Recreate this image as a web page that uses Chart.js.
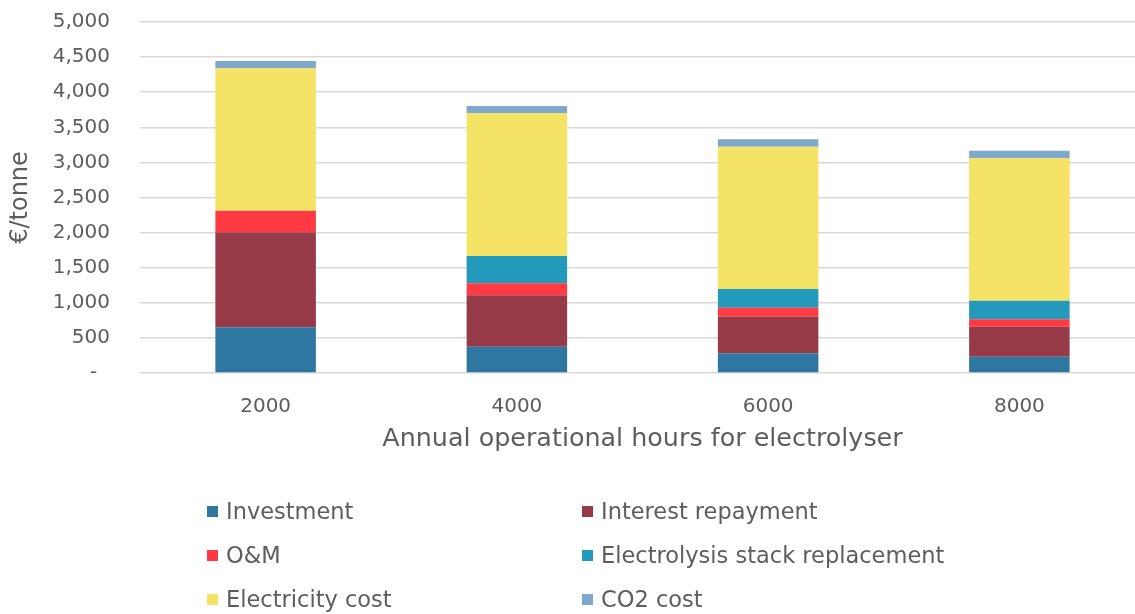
<!DOCTYPE html>
<html>
<head>
<meta charset="utf-8">
<script src="https://cdn.jsdelivr.net/npm/chart.js@4"></script>
<style>
  html, body { margin: 0; padding: 0; background: #fff; overflow: hidden; }
  body { width: 1135px; height: 614px; position: relative; font-family: "DejaVu Sans", sans-serif; }
  #wrap { position: absolute; left: 0; top: -20px; width: 1145px; height: 490px; }
  #legend { position: absolute; left: 0; top: 0; width: 1135px; height: 614px; pointer-events: none; }
  .item { position: absolute; display: flex; align-items: center; font-size: 22.5px; color: #5d5d5d; white-space: nowrap; }
  .item span.box { display: inline-block; width: 11px; height: 11px; margin-right: 8px; }
</style>
</head>
<body>
<div id="wrap"><canvas id="costs-barchart"></canvas></div>
<div id="legend"></div>
<script>
const hours = ['2000', '4000', '6000', '8000'];
const investment = [650, 375, 280, 232];
const interestRepayment = [1355, 732, 521, 428];
const oAndM = [305, 171, 128, 105];
const stackReplacement = [0, 389, 267, 265];
const electricityCost = [2032, 2032, 2027, 2028];
const co2Cost = [104, 104, 105, 109];

const seriesNames = ['Investment', 'Interest repayment', 'O&M', 'Electrolysis stack replacement', 'Electricity cost', 'CO2 cost'];
const seriesValues = [investment, interestRepayment, oAndM, stackReplacement, electricityCost, co2Cost];
const seriesColors = ['#2E77A0', '#973A48', '#FF3A43', '#2399BC', '#F4E365', '#7FA7C9'];

document.addEventListener('DOMContentLoaded', function() {
    const ctx = document.getElementById('costs-barchart').getContext('2d');
    const textColor = '#5d5d5d';
    const family = 'DejaVu Sans';

    new Chart(ctx, {
        type: 'bar',
        data: {
            labels: hours,
            datasets: seriesNames.map(function(name, i) {
                return {
                    label: name,
                    data: seriesValues[i],
                    backgroundColor: seriesColors[i],
                    borderWidth: 0,
                    categoryPercentage: 1,
                    barPercentage: 0.4
                };
            })
        },
        options: {
            responsive: true,
            maintainAspectRatio: false,
            animation: false,
            layout: { padding: { top: 2, bottom: 11, left: 0, right: 0 } },
            plugins: {
                legend: { display: false },
                tooltip: { enabled: false }
            },
            scales: {
                x: {
                    stacked: true,
                    grid: { display: false, drawTicks: false },
                    border: { display: false },
                    ticks: { color: textColor, font: { family: family, size: 20 }, padding: 22 },
                    title: {
                        display: true,
                        text: 'Annual operational hours for electrolyser',
                        color: textColor,
                        font: { family: family, size: 25.4 },
                        padding: { top: 0, bottom: 4 }
                    },
                    afterFit: function(scale) { scale.height = 86; }
                },
                y: {
                    stacked: true,
                    min: 0,
                    max: 5000,
                    grid: { color: '#D9D9D9', lineWidth: 1.5, drawTicks: false },
                    border: { display: false },
                    ticks: {
                        stepSize: 500,
                        color: textColor,
                        font: { family: family, size: 20 },
                        padding: 30,
                        callback: function(value) {
                            // accounting style: zero shows as a dash
                            return value === 0 ? '-  ' : value.toLocaleString('en-US');
                        }
                    },
                    title: {
                        display: true,
                        text: '€/tonne',
                        color: textColor,
                        font: { family: family, size: 24 },
                        padding: { top: 6, bottom: 0 }
                    },
                    afterFit: function(scale) { scale.width = 140; }
                }
            }
        }
    });

    // legend laid out in two columns like the original
    const legend = document.getElementById('legend');
    const colX = [207, 582];
    const rowY = [513, 557, 601];
    seriesNames.forEach(function(name, i) {
        const el = document.createElement('div');
        el.className = 'item';
        el.style.left = colX[i % 2] + 'px';
        el.style.top = (rowY[Math.floor(i / 2)] - 15) + 'px';
        el.innerHTML = '<span class="box" style="background:' + seriesColors[i] + '"></span>';
        el.appendChild(document.createTextNode(name));
        legend.appendChild(el);
    });
});
</script>
</body>
</html>
